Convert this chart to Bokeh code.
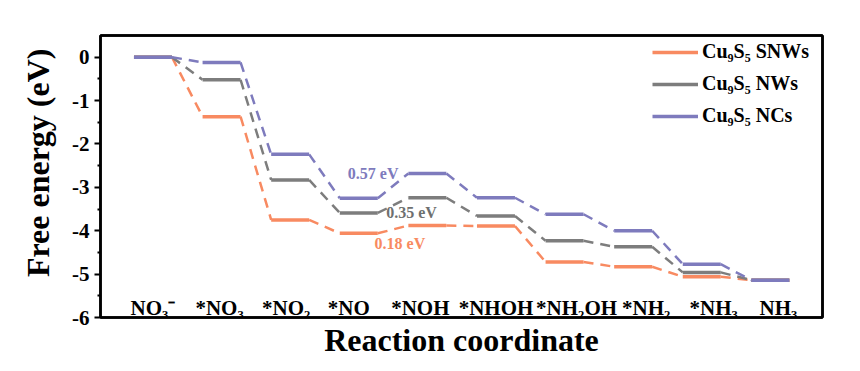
import numpy as np
from bokeh.plotting import figure
from bokeh.models import Range1d, FixedTicker, Legend, LegendItem, ColumnDataSource, LinearAxis, Title
from bokeh.core.properties import value
from bokeh.embed import file_html
from bokeh.resources import INLINE

# ---- data ----
steps = ["NO\u2083\u207b", "*NO\u2083", "*NO\u2082", "*NO", "*NOH", "*NHOH",
         "*NH\u2082OH", "*NH\u2082", "*NH\u2083", "NH\u2083"]
snws = [0, -1.37, -3.75, -4.06, -3.88, -3.89, -4.72, -4.83, -5.06, -5.14]
nws = [0, -0.52, -2.83, -3.59, -3.24, -3.66, -4.23, -4.37, -4.96, -5.14]
ncs = [0, -0.12, -2.24, -3.25, -2.68, -3.24, -3.62, -4.00, -4.77, -5.14]
series_names = ["Cu\u2089S\u2085 SNWs", "Cu\u2089S\u2085 NWs", "Cu\u2089S\u2085 NCs"]
barrier_texts = ["0.18 eV", "0.35 eV", "0.57 eV"]
y_ticks = [0, -1, -2, -3, -4, -5, -6]
y_tick_labels = ["0", "-1", "-2", "-3", "-4", "-5", "-6"]

# ---- style ----
colors = ["#F88A61", "#7D7D7D", "#7E7BBD"]
label_colors = ["#F88A61", "#6E706F", "#7E7BBD"]
FONT = "Liberation Serif"
hw = 0.277
FW, FH = 722, 282

p = figure(width=844, height=355, output_backend="svg", toolbar_location=None,
           x_range=Range1d(0.235, 10.76), y_range=Range1d(-6, 0.5),
           min_border_left=100, min_border_right=22, min_border_top=35, min_border_bottom=38)
p.frame_width = FW
p.frame_height = FH
p.grid.visible = False
p.outline_line_color = "black"
p.outline_line_width = 2.5
p.background_fill_color = "white"
p.border_fill_color = "white"

pos = np.arange(1, len(steps) + 1, dtype=float)
level_renderers = []
for vals, col in zip([snws, nws, ncs], colors):
    v = np.array(vals, dtype=float)
    p.segment(x0=pos[:-1] + hw, y0=v[:-1], x1=pos[1:] - hw, y1=v[1:],
              line_color=col, line_width=2.5, line_dash="10 7")
    r = p.segment(x0=pos - hw, y0=v, x1=pos + hw, y1=v,
                  line_color=col, line_width=3.5)
    level_renderers.append(r)

# category labels inside plot
lab_offsets = [0, -2, -4, -10, -7, 0, 12, 13, 12, 8]
src = ColumnDataSource(dict(x=pos, y=[-5.79] * len(steps), t=steps, xo=lab_offsets))
p.text(x="x", y="y", text="t", x_offset="xo", source=src, text_align="center",
       text_baseline="alphabetic", text_font=value(FONT), text_font_style="bold",
       text_font_size="21px", text_color="black")

# barrier labels
bx = [4.60, 4.77, 4.21]
by = [-4.29, -3.59, -2.67]
for t, x, y, c in zip(barrier_texts, bx, by, label_colors):
    p.text(x=[x], y=[y], text=[t], text_align="center", text_baseline="middle",
           text_font=value(FONT), text_font_style="bold", text_font_size="16px",
           text_color=c)

# axes
p.yaxis.ticker = FixedTicker(ticks=y_ticks, minor_ticks=[t + 0.5 for t in y_ticks[1:]])
p.yaxis.major_label_overrides = {t: l for t, l in zip(y_ticks, y_tick_labels)}
p.yaxis.axis_line_width = 2.5
p.yaxis.axis_line_color = "black"
p.yaxis.major_tick_line_color = "black"
p.yaxis.minor_tick_line_color = "black"
p.yaxis.major_tick_line_width = 2
p.yaxis.minor_tick_line_width = 2
p.yaxis.major_tick_out = 6
p.yaxis.major_tick_in = 0
p.yaxis.minor_tick_out = 3
p.yaxis.minor_tick_in = 0
p.yaxis.major_label_text_font = FONT
p.yaxis.major_label_text_font_style = "bold"
p.yaxis.major_label_text_font_size = "21px"
p.yaxis.major_label_text_color = "black"
p.yaxis.major_label_standoff = 5

# y-axis title as a side title (sits a bit above the frame centre, as in the original)
p.add_layout(Title(text="Free energy (eV)", align="right", offset=13, vertical_align="middle",
                   text_font=FONT, text_font_style="bold", text_font_size="32px",
                   text_color="black", standoff=26), "left")

p.xaxis.ticker = FixedTicker(ticks=[])
p.xaxis.axis_line_width = 2.5
p.xaxis.axis_line_color = "black"
p.xaxis.major_tick_out = 0
p.xaxis.minor_tick_out = 0
p.xaxis.axis_label = "Reaction coordinate"
p.xaxis.axis_label_text_font = FONT
p.xaxis.axis_label_text_font_style = "bold"
p.xaxis.axis_label_text_font_size = "32px"
p.xaxis.axis_label_text_color = "black"
p.xaxis.axis_label_standoff = 4

# box edges on top and right
for side in ("above", "right"):
    ax = LinearAxis(ticker=FixedTicker(ticks=[]), axis_line_width=2.5, axis_line_color="black",
                    major_tick_out=0, minor_tick_out=0, major_label_text_font_size="0px")
    p.add_layout(ax, side)

leg_h = 3 * 20 + 2 * 9 + 2 * 14
legend = Legend(items=[LegendItem(label=n, renderers=[r]) for n, r in zip(series_names, level_renderers)],
                location=(538, FH - leg_h), border_line_alpha=0, background_fill_alpha=0,
                label_text_font=FONT, label_text_font_style="bold", label_text_font_size="20px",
                label_text_color="black",
                glyph_width=46, glyph_height=20, label_height=20, label_standoff=4,
                spacing=9, padding=14, margin=0)
p.add_layout(legend)

open("out.html", "w").write(file_html(p, INLINE))
